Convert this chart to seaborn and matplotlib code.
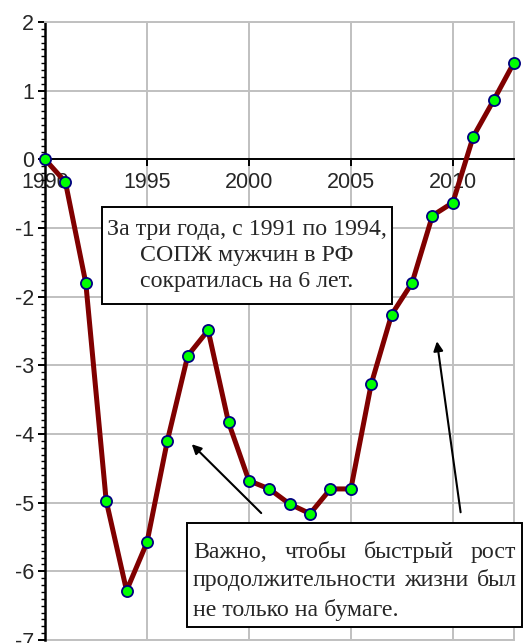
import numpy as np
import pandas as pd
import matplotlib
matplotlib.use("Agg")
import matplotlib.pyplot as plt
from matplotlib.ticker import MultipleLocator
from matplotlib.patches import Rectangle
import seaborn as sns

# Change of male life expectancy in RF relative to 1990, years
years = list(range(1990, 2014))
change = [0.0, -0.33, -1.80, -4.97, -6.28, -5.58, -4.10, -2.86, -2.49, -3.83,
          -4.68, -4.80, -5.02, -5.16, -4.80, -4.80, -3.27, -2.26, -1.80, -0.82,
          -0.63, 0.33, 0.86, 1.41]

note_top = "За три года, с 1991 по 1994,\nСОПЖ мужчин в РФ\nсократилась на 6 лет."
note_bottom = [
    ["Важно,", "чтобы", "быстрый", "рост"],
    ["продолжительности", "жизни", "был"],
    ["не только на бумаге."],
]

df = pd.DataFrame({"year": years, "change": change})

sns.set_style("white")
plt.rcParams["font.family"] = ["Liberation Sans", "DejaVu Sans"]

fig = plt.figure(figsize=(5.25, 6.43), dpi=100)
ax = fig.add_axes([45 / 525, 1 - 640 / 643, (514 - 45) / 525, (640 - 22) / 643])

sns.lineplot(data=df, x="year", y="change", ax=ax, color="#800000",
             linewidth=3.6, marker="o", markersize=8,
             markerfacecolor="#00FF00", markeredgecolor="#000080",
             markeredgewidth=1.3, zorder=3, clip_on=False)

ax.set_xlim(1990, 2013)
ax.set_ylim(-7, 2)
ax.set_xlabel("")
ax.set_ylabel("")

ax.xaxis.set_major_locator(MultipleLocator(5))
ax.yaxis.set_major_locator(MultipleLocator(1))
ax.yaxis.set_minor_locator(MultipleLocator(0.1))
ax.grid(True, which="major", color="#C0C0C0", linewidth=1.4, zorder=0)
ax.set_axisbelow(True)

# spines: x axis crosses at zero, left axis black, frame grey
ax.spines["bottom"].set_position(("data", 0))
ax.spines["bottom"].set_color("black")
ax.spines["bottom"].set_linewidth(1.4)
ax.spines["left"].set_color("black")
ax.spines["left"].set_linewidth(1.8)
for s in ["top", "right"]:
    ax.spines[s].set_color("#C0C0C0")
    ax.spines[s].set_linewidth(1.4)
ax.axhline(-7, color="#C0C0C0", linewidth=1.4, zorder=0, clip_on=False)

ax.tick_params(axis="x", which="major", direction="out", length=5, width=1.4,
               color="black", labelsize=15.5, pad=4, bottom=True)
ax.tick_params(axis="y", which="major", direction="out", length=5, width=1.4,
               color="black", labelsize=15.5, pad=3, left=True)
ax.tick_params(axis="y", which="minor", direction="out", length=3, width=1,
               color="black", left=True)
ax.set_xticks([1990, 1995, 2000, 2005, 2010])
ax.set_yticks(range(-7, 3))
ax.set_yticklabels([str(v) for v in range(-7, 3)])

serif = ["Liberation Serif", "DejaVu Serif"]
note_size = 17.2

# upper note box
ax.add_patch(Rectangle((1992.80, -2.11), 14.22, 1.41, facecolor="white",
                       edgecolor="black", linewidth=1.4, zorder=4))
ax.text(1999.91, -1.40, note_top, ha="center", va="center", multialignment="center",
        family=serif, fontsize=note_size, zorder=5, linespacing=1.32)

# lower note box, text justified to the box width
ax.add_patch(Rectangle((1996.96, -6.81), 16.43, 1.51, facecolor="white",
                       edgecolor="black", linewidth=1.4, zorder=4, clip_on=False))
line_y = [-5.72, -6.14, -6.56]
x_left, x_right = 1997.25, 2013.12
fig.canvas.draw()
renderer = fig.canvas.get_renderer()
px_per_year = ax.transData.transform((1, 0))[0] - ax.transData.transform((0, 0))[0]
for words, y in zip(note_bottom, line_y):
    items = [ax.text(x_left, y, w, ha="left", va="center", family=serif,
                     fontsize=note_size, zorder=5, clip_on=False) for w in words]
    if len(items) < 2:
        continue
    widths = [t.get_window_extent(renderer).width / px_per_year for t in items]
    gap = (x_right - x_left - sum(widths)) / (len(items) - 1)
    x = x_left
    for t, w in zip(items, widths):
        t.set_x(x)
        x += w + gap

# arrows
ax.annotate("", xy=(1997.1, -4.12), xytext=(2000.7, -5.18),
            arrowprops=dict(arrowstyle="-|>", color="black", lw=1.5,
                            mutation_scale=14), zorder=4)
ax.annotate("", xy=(2009.2, -2.61), xytext=(2010.4, -5.18),
            arrowprops=dict(arrowstyle="-|>", color="black", lw=1.5,
                            mutation_scale=14), zorder=4)

fig.savefig("out.png", dpi=100)
